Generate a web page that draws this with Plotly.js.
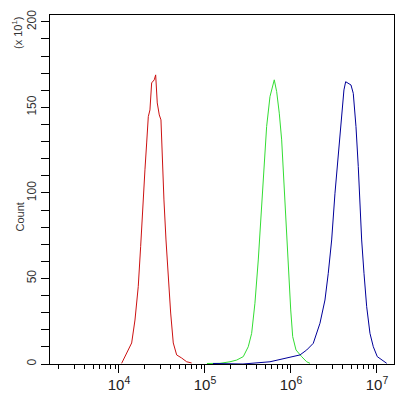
<!DOCTYPE html>
<html><head><meta charset="utf-8">
<script src="https://cdn.plot.ly/plotly-3.0.1.min.js"></script>
<style>html,body{margin:0;padding:0;background:#fff}#chart{width:415px;height:394px}</style>
</head><body><div id="chart"></div>
<script>
const redX = [10740,12300,14050,15350,16750,17870,18860,20050,20990,21930,22920,23560,23990,25710,26710,27870,29420,30780,31870,33340,35210,37440,39910,42790,46870,53560,61240,70000];
const redY = [0.4,6.4,12.3,25.7,45.2,68.6,92,113.5,129.2,144.6,148.5,158.5,164.3,166.1,169,152.6,145.6,142.7,119.3,95.9,72.5,51,29.8,12.3,5.3,3.5,1.3,0.6];
const greenX = [105400,149300,195300,233700,278900,318600,349000,381000,416600,456200,485300,521300,570000,612700,639500,681900,731300,779600,829600,875400,930800,993300,1047000,1144000,1331000,1523000,1665000];
const greenY = [0.3,0.4,1.3,2.3,4.3,10.1,17.9,35.5,60.8,90.1,115.4,138.8,156.3,162.2,166.1,159.2,146.6,131,105.7,80.3,55,31.6,16,8.2,4.3,1.3,0.4];
const blueX = [123900,276700,570000,891300,1274000,1524000,1817000,2173000,2484000,2714000,2973000,3249000,3550000,3890000,4131000,4325000,4636000,4986000,5302000,5699000,6062000,6344000,6639000,7063000,7591000,8291000,9063000,10080000,11340000,12980000];
const blueY = [0.3,0,1.3,3.3,5.3,8.2,12.1,23.8,37.4,53,72.5,99.8,123.2,146.6,160.2,165,164.1,163.1,158.2,138.8,115.4,94,72.5,53,33.5,17.9,10.1,4.3,2.3,0.4];

const traces = [
  {x: redX, y: redY, mode: 'lines', line: {color: '#cc1111', width: 1}},
  {x: greenX, y: greenY, mode: 'lines', line: {color: '#33dd33', width: 1}},
  {x: blueX, y: blueY, mode: 'lines', line: {color: '#000099', width: 1}}
];
const ff = 'Liberation Sans, Arial, sans-serif';
const layout = {
  width: 415, height: 394,
  margin: {l: 50, r: 21, t: 15, b: 30},
  paper_bgcolor: '#fff', plot_bgcolor: '#fff',
  showlegend: false,
  font: {family: ff, size: 11, color: '#333'},
  xaxis: {
    type: 'log', range: [3.198, 7.198], dtick: 1, exponentformat: 'power',
    showgrid: false, zeroline: false, showline: true, linecolor: '#000', linewidth: 1, mirror: true,
    ticks: 'outside', ticklen: 8, tickcolor: '#000',
    minor: {dtick: 'D1', ticks: 'outside', ticklen: 4, tickcolor: '#000', showgrid: false},
    tickfont: {family: ff, size: 12, color: '#222'}
  },
  yaxis: {
    range: [0, 204], dtick: 50, tickangle: -90,
    showgrid: false, zeroline: false, showline: true, linecolor: '#000', linewidth: 1, mirror: true,
    ticks: 'outside', ticklen: 8, tickcolor: '#000',
    minor: {dtick: 10, ticks: 'outside', ticklen: 8, tickcolor: '#000', showgrid: false},
    tickfont: {family: ff, size: 12, color: '#333'}
  },
  annotations: [
    {text: 'Count', xref: 'paper', yref: 'paper', x: -0.087, y: 0.42, xanchor: 'center', yanchor: 'middle',
     textangle: -90, showarrow: false, font: {family: ff, size: 11, color: '#333'}},
    {text: '(x 10<sup>1</sup>)', xref: 'paper', yref: 'paper', x: -0.096, y: 1.0, xanchor: 'center', yanchor: 'top',
     textangle: -90, showarrow: false, font: {family: ff, size: 11, color: '#333'}}
  ]
};
Plotly.newPlot('chart', traces, layout, {displayModeBar: false, staticPlot: true});
</script></body></html>
